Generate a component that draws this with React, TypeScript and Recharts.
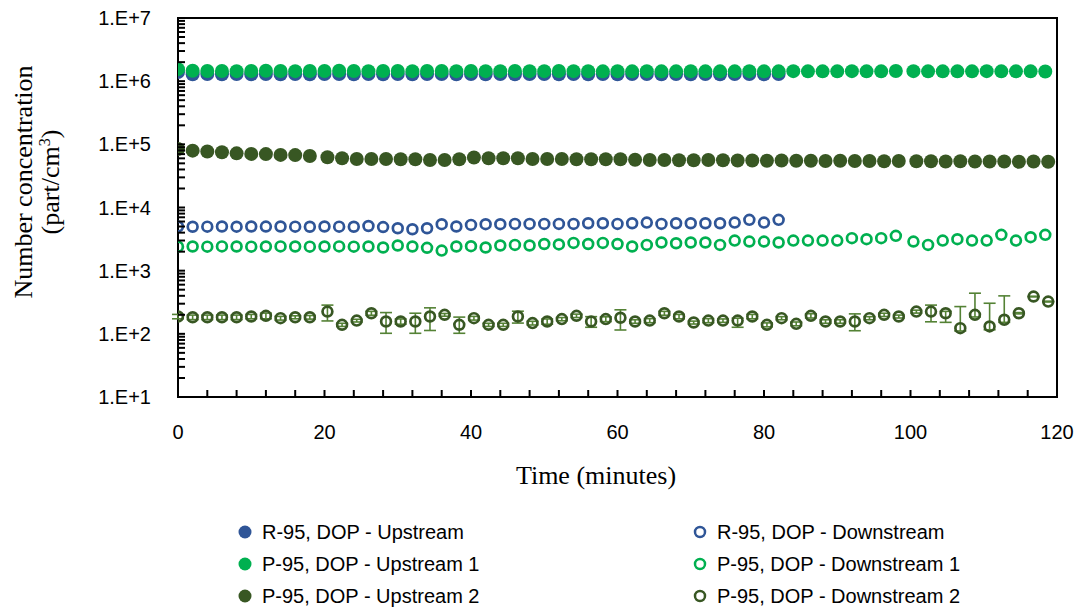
import React from 'react';
import { ScatterChart, Scatter, XAxis, YAxis, ErrorBar, ReferenceArea, Legend } from 'recharts';

const BLUE = '#2F5597';
const GREEN = '#00B050';
const DARK = '#385723';
const ERR_COLOR = '#548235';
const SANS = '"Liberation Sans", Arial, sans-serif';
const SERIF = '"Liberation Serif", "Times New Roman", serif';

// sample times (minutes)
const tR = [0, 2, 4, 6, 8, 10, 12, 14, 16, 18, 20, 22, 24, 26, 28, 30, 32, 34, 36, 38,
  40, 42, 44, 46, 48, 50, 52, 54, 56, 58, 60, 62, 64, 66, 68, 70, 72, 74, 76, 78, 80, 82];
const tP1 = [0, 2, 4, 6, 8, 10, 12, 14, 16, 18, 20, 22, 24, 26, 28, 30, 32, 34, 36, 38,
  40, 42, 44, 46, 48, 50, 52, 54, 56, 58, 60, 62, 64, 66, 68, 70, 72, 74, 76, 78,
  80, 82, 84, 86, 88, 90, 92, 94, 96, 98,
  100.4, 102.4, 104.4, 106.4, 108.4, 110.4, 112.4, 114.4, 116.4, 118.4];
const tP2 = [0, 2, 4, 6, 8, 10, 12, 14, 16, 18,
  20.4, 22.4, 24.4, 26.4, 28.4, 30.4, 32.4, 34.4, 36.4, 38.4,
  40.4, 42.4, 44.4, 46.4, 48.4, 50.4, 52.4, 54.4, 56.4, 58.4,
  60.4, 62.4, 64.4, 66.4, 68.4, 70.4, 72.4, 74.4, 76.4, 78.4,
  80.4, 82.4, 84.4, 86.4, 88.4, 90.4, 92.4, 94.4, 96.4, 98.4,
  100.8, 102.8, 104.8, 106.8, 108.8, 110.8, 112.8, 114.8, 116.8, 118.8];

// number concentrations (part/cm3)
const rUp = [1400000, 1290000, 1300000, 1290000, 1300000, 1290000, 1300000, 1290000, 1300000, 1290000,
  1300000, 1300000, 1290000, 1300000, 1290000, 1300000, 1290000, 1300000, 1300000, 1290000,
  1300000, 1290000, 1300000, 1290000, 1300000, 1300000, 1290000, 1300000, 1290000, 1300000,
  1290000, 1300000, 1300000, 1290000, 1300000, 1290000, 1300000, 1290000, 1300000, 1300000,
  1290000, 1300000];
const rDown = [5000, 4950, 4980, 5000, 4970, 5000, 4990, 5000, 4980, 4960,
  5000, 4980, 4950, 5100, 4900, 4700, 4530, 4700, 5440, 5000,
  5300, 5440, 5440, 5500, 5500, 5500, 5500, 5500, 5640, 5640,
  5500, 5640, 5770, 5500, 5640, 5640, 5640, 5640, 5770, 6370,
  5770, 6370];
const p1Up = [1550000, 1460000, 1450000, 1450000, 1440000, 1450000, 1460000, 1450000, 1440000, 1450000,
  1450000, 1460000, 1450000, 1440000, 1450000, 1450000, 1440000, 1450000, 1450000, 1440000,
  1450000, 1440000, 1440000, 1450000, 1440000, 1440000, 1450000, 1440000, 1440000, 1430000,
  1440000, 1430000, 1440000, 1430000, 1430000, 1440000, 1430000, 1430000, 1430000, 1440000,
  1430000, 1430000, 1440000, 1430000, 1430000, 1430000, 1440000, 1430000, 1430000, 1450000,
  1440000, 1430000, 1430000, 1430000, 1430000, 1440000, 1430000, 1430000, 1430000, 1420000];
const p1Down = [2400, 2410, 2400, 2420, 2410, 2400, 2410, 2420, 2410, 2400,
  2410, 2420, 2400, 2410, 2330, 2500, 2410, 2300, 2080, 2410,
  2440, 2330, 2500, 2560, 2500, 2640, 2600, 2750, 2640, 2750,
  2640, 2410, 2560, 2790, 2720, 2790, 2790, 2560, 2990, 2890,
  2890, 2790, 2990, 2990, 2990, 2990, 3270, 3150, 3270, 3560,
  2890, 2560, 2990, 3150, 2990, 2990, 3690, 2990, 3390, 3690];
const p2Up = [84500, 79500, 77000, 75000, 72000, 70500, 70000, 68000, 67500, 65500,
  62500, 60300, 58700, 58700, 58700, 58100, 58100, 56600, 56600, 58100,
  62000, 60300, 60300, 60300, 58700, 58700, 58700, 58100, 58100, 58100,
  58100, 57000, 56600, 56600, 56000, 56000, 56600, 56000, 55500, 55500,
  55000, 55500, 55000, 55000, 54500, 55000, 54500, 54500, 54000, 54500,
  54000, 54000, 53500, 54000, 53500, 53500, 53500, 53000, 53500, 53000];
const p2Down = [188, 183, 183, 183, 183, 188, 193, 177, 183, 183,
  225, 139, 162, 212, 157, 157, 157, 188, 200, 139,
  177, 139, 139, 188, 148, 157, 171, 193, 157, 171,
  180, 157, 162, 212, 188, 151, 162, 162, 162, 188,
  139, 177, 144, 193, 157, 157, 157, 177, 200, 188,
  225, 225, 212, 123, 200, 131, 167, 212, 389, 324];
// [below, above]
const p2DownErr = [[15, 15], [15, 15], [15, 15], [15, 15], [15, 15], [15, 15], [20, 20], [12, 12], [10, 10], [12, 12],
  [65, 60], [8, 8], [8, 8], [15, 15], [55, 60], [15, 15], [55, 55], [75, 70], [10, 10], [37, 45],
  [12, 12], [8, 8], [8, 8], [40, 40], [10, 10], [15, 15], [10, 10], [12, 12], [30, 30], [15, 15],
  [65, 60], [10, 10], [12, 12], [15, 15], [15, 15], [8, 8], [12, 12], [10, 10], [35, 15], [15, 15],
  [10, 10], [10, 10], [10, 10], [15, 15], [10, 10], [10, 10], [45, 50], [10, 10], [12, 12], [10, 10],
  [12, 12], [70, 60], [60, 15], [12, 147], [15, 240], [15, 174], [15, 232], [5, 5], [5, 5], [5, 5]];

const X_TICKS = [0, 4, 8, 12, 16, 20, 24, 28, 32, 36, 40, 44, 48, 52, 56, 60, 64, 68, 72, 76,
  80, 84, 88, 92, 96, 100, 104, 108, 112, 116, 120];
const DECADES = [10, 100, 1000, 10000, 100000, 1000000, 10000000];
const MINOR = [1, 2, 3, 4, 5, 6, 7, 8, 9];
const Y_TICKS = DECADES.flatMap((d, i) => (i === DECADES.length - 1 ? [d] : MINOR.map((m) => m * d)));

const rows = (t, v, e?) => t.map((x, i) => ({ x, y: v[i], err: e ? e[i] : undefined }));

const SERIES = [
  { name: 'R-95, DOP - Upstream', data: rows(tR, rUp), color: BLUE, filled: true },
  { name: 'R-95, DOP - Downstream', data: rows(tR, rDown), color: BLUE, filled: false },
  { name: 'P-95, DOP - Upstream 1', data: rows(tP1, p1Up), color: GREEN, filled: true },
  { name: 'P-95, DOP - Downstream 1', data: rows(tP1, p1Down), color: GREEN, filled: false },
  { name: 'P-95, DOP - Upstream 2', data: rows(tP2, p2Up), color: DARK, filled: true },
  { name: 'P-95, DOP - Downstream 2', data: rows(tP2, p2Down, p2DownErr), color: DARK, filled: false, err: true },
];

const marker = (color, filled) => (p) =>
  filled
    ? <circle cx={p.cx} cy={p.cy} r={7} fill={color} />
    : <circle cx={p.cx} cy={p.cy} r={4.9} fill="none" stroke={color} strokeWidth={2.7} />;

const isDecade = (v) => Math.abs(Math.log10(v) - Math.round(Math.log10(v))) < 1e-9;

const YTick = ({ x, y, payload }) => (
  <g>
    <line x1={x} y1={y} x2={x + 7} y2={y} stroke="#000" strokeWidth={2} />
    {isDecade(payload.value) && (
      <text x={x - 27} y={y} textAnchor="end" dominantBaseline="central"
            fontFamily={SANS} fontSize={20} fill="#000">
        {`1.E+${Math.round(Math.log10(payload.value))}`}
      </text>
    )}
  </g>
);

const XTick = ({ x, y, payload }) => (
  <g>
    <line x1={x} y1={y} x2={x} y2={y - 7} stroke="#000" strokeWidth={2} />
    {payload.value % 20 === 0 && (
      <text x={x} y={y + 35} textAnchor="middle" dominantBaseline="central"
            fontFamily={SANS} fontSize={20} fill="#000">
        {payload.value}
      </text>
    )}
  </g>
);

const YTitle = () => (
  <g fontFamily={SERIF} fontSize={26} fill="#000">
    <text x={32} y={182} transform="rotate(-90 32 182)" textAnchor="middle">Number concentration</text>
    <text x={59} y={182} transform="rotate(-90 59 182)" textAnchor="middle">
      (part/cm<tspan dy={-9} fontSize={16}>3</tspan><tspan dy={9}>)</tspan>
    </text>
  </g>
);

const XTitle = () => (
  <text x={596} y={484} textAnchor="middle" fontFamily={SERIF} fontSize={26} fill="#000">
    Time (minutes)
  </text>
);

const LegendBox = () => (
  <div style={{ position: 'relative', width: 1084, height: 98 }}>
    {SERIES.map((s, i) => {
      const col = i % 2;
      const row = Math.floor(i / 2);
      return (
        <div key={s.name} style={{
          position: 'absolute', left: col ? 692 : 237, top: 17 + row * 32 - 12,
          height: 24, display: 'flex', alignItems: 'center',
          fontFamily: SANS, fontSize: 20, color: '#000', whiteSpace: 'nowrap',
        }}>
          <svg width={16} height={16} style={{ marginRight: 9 }}>
            {s.filled
              ? <circle cx={8} cy={8} r={6.5} fill={s.color} />
              : <circle cx={8} cy={8} r={5} fill="none" stroke={s.color} strokeWidth={2.5} />}
          </svg>
          <span>{s.name}</span>
        </div>
      );
    })}
  </div>
);

export default function App() {
  return (
    <div style={{ position: 'absolute', left: 0, top: 0, width: 1084, height: 613, background: '#fff' }}>
      <ScatterChart width={1084} height={613} margin={{ top: 18, right: 27, bottom: 176, left: 118 }}>
        <ReferenceArea x1={0} x2={120} y1={10} y2={10000000} fill="none" fillOpacity={0}
                       stroke="#000" strokeWidth={2} ifOverflow="visible" />
        <XAxis type="number" dataKey="x" domain={[0, 120]} ticks={X_TICKS} interval={0}
               allowDataOverflow tickSize={0} tickMargin={0} axisLine={false} tickLine={false}
               tick={XTick} height={40} label={<XTitle />} />
        <YAxis type="number" dataKey="y" scale="log" domain={[10, 10000000]} ticks={Y_TICKS}
               interval={0} allowDataOverflow tickSize={0} tickMargin={0} axisLine={false}
               tickLine={false} tick={YTick} width={60} label={<YTitle />} />
        {SERIES.map((s) => (
          <Scatter key={s.name} name={s.name} data={s.data} isAnimationActive={false}
                   shape={marker(s.color, s.filled)}>
            {s.err && <ErrorBar dataKey="err" direction="y" width={6} stroke={ERR_COLOR} strokeWidth={1.6} />}
          </Scatter>
        ))}
        <Legend layout="horizontal" verticalAlign="middle" align="center" content={LegendBox}
                wrapperStyle={{ left: 0, top: 515, width: 1084, height: 98 }} />
      </ScatterChart>
    </div>
  );
}
